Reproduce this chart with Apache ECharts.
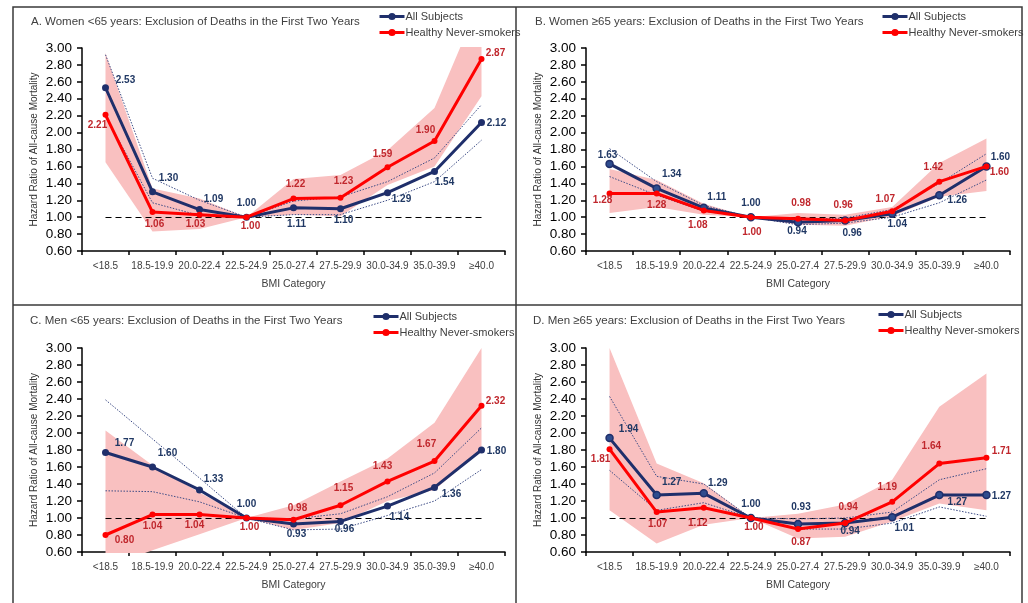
<!DOCTYPE html>
<html><head><meta charset="utf-8">
<script src="https://cdn.jsdelivr.net/npm/echarts@6/dist/echarts.min.js"></script>
<style>html,body{margin:0;padding:0;background:#fff}#c{width:1028px;height:603px}</style>
</head><body><div id="c"></div>
<script>
// ---------- DATA ----------
const categories = ['<18.5','18.5-19.9','20.0-22.4','22.5-24.9','25.0-27.4','27.5-29.9','30.0-34.9','35.0-39.9','≥40.0'];
const seriesNames = ['All Subjects', 'Healthy Never-smokers'];
const titles = [
  'A. Women <65 years: Exclusion of Deaths in the First Two Years',
  'B. Women ≥65 years: Exclusion of Deaths in the First Two Years',
  'C. Men <65 years: Exclusion of Deaths in the First Two Years',
  'D. Men ≥65 years: Exclusion of Deaths in the First Two Years'
];
const yMin = 0.6, yMax = 3.0, yStep = 0.2;
const refValue = 1.00;

// Panel A
const A_all      = [2.53,1.30,1.09,1.00,1.11,1.10,1.29,1.54,2.12];
const A_allUpper = [2.92,1.46,1.20,1.00,1.19,1.24,1.42,1.70,2.33];
const A_allLower = [2.20,1.17,1.02,1.00,1.03,1.03,1.20,1.42,1.91];
const A_hns      = [2.21,1.06,1.03,1.00,1.22,1.23,1.59,1.90,2.87];
const A_hnsUpper = [2.94,1.34,1.22,1.00,1.45,1.50,1.79,2.29,3.60];
const A_hnsLower = [1.65,0.83,0.86,1.00,1.03,1.01,1.38,1.60,2.43];
// Panel B
const B_all      = [1.63,1.34,1.11,1.00,0.94,0.96,1.04,1.26,1.60];
const B_allUpper = [1.81,1.42,1.14,1.00,0.97,0.99,1.09,1.40,1.75];
const B_allLower = [1.48,1.26,1.07,1.00,0.91,0.93,1.00,1.17,1.44];
const B_hns      = [1.28,1.28,1.08,1.00,0.98,0.96,1.07,1.42,1.60];
const B_hnsUpper = [1.57,1.44,1.16,1.00,1.05,1.03,1.12,1.64,1.93];
const B_hnsLower = [1.05,1.12,1.03,1.00,0.91,0.90,1.01,1.24,1.31];
// Panel C
const C_all      = [1.77,1.60,1.33,1.00,0.93,0.96,1.14,1.36,1.80];
const C_allUpper = [2.39,1.93,1.47,1.00,0.99,1.05,1.25,1.53,2.06];
const C_allLower = [1.32,1.31,1.19,1.00,0.86,0.87,1.03,1.20,1.57];
const C_hns      = [0.80,1.04,1.04,1.00,0.98,1.15,1.43,1.67,2.32];
const C_hnsUpper = [2.03,1.62,1.30,1.00,1.15,1.43,1.70,2.12,3.00];
const C_hnsLower = [0.42,0.62,0.81,1.00,0.86,0.94,1.20,1.33,1.80];
// Panel D
const D_all      = [1.94,1.27,1.29,1.00,0.93,0.94,1.01,1.27,1.27];
const D_allUpper = [2.43,1.49,1.40,1.00,0.99,1.00,1.07,1.45,1.58];
const D_allLower = [1.56,1.09,1.18,1.00,0.87,0.87,0.94,1.13,1.02];
const D_hns      = [1.81,1.07,1.12,1.00,0.87,0.94,1.19,1.64,1.71];
const D_hnsUpper = [3.00,1.64,1.41,1.00,1.05,1.16,1.45,2.31,2.70];
const D_hnsLower = [1.09,0.70,0.92,1.00,0.76,0.78,0.96,1.17,1.09];

// ---------- STYLE / LAYOUT ----------
const labelOffsets = {
  A: { all: [[20,-8],[16,-14],[14,-10],[0,-14],[3,16],[3,12],[14,7],[10,11],[15,1]],
       hns: [[-8,10],[2,12],[-4,10],[4,9],[2,-14],[3,-16],[-5,-13],[-9,-11],[14,-6]] },
  B: { all: [[-2,-9],[15,-14],[13,-11],[0,-14],[-1,9],[7,13],[5,10],[18,5],[14,-9]],
       hns: [[-7,7],[0,12],[-6,15],[1,15],[3,-16],[-2,-15],[-7,-12],[-6,-14],[13,6]] },
  C: { all: [[19,-9],[15,-14],[14,-11],[0,-14],[3,10],[4,8],[12,11],[17,7],[15,1]],
       hns: [[19,5],[0,12],[-5,11],[3,9],[4,-11],[3,-17],[-5,-15],[-8,-17],[14,-5]] },
  D: { all: [[19,-9],[15,-13],[14,-10],[0,-14],[3,-17],[5,8],[12,11],[18,7],[15,1]],
       hns: [[-9,10],[1,12],[-6,15],[3,9],[3,13],[3,-16],[-5,-15],[-8,-17],[15,-6]] }
};
const NAVY = '#1F2F6B', RED = '#FF0000', PINK = '#F9C0C0';
const NAVY_LBL = '#203864', RED_LBL = '#C0272D';
const FONT = '"Liberation Sans", Arial, sans-serif';

const panels = [
  { key:'A', all:A_all, allU:A_allUpper, allL:A_allLower, hns:A_hns, hU:A_hnsUpper, hL:A_hnsLower,
    grid:{left:82, top:48, width:423, height:203}, title:{left:31, top:16}, legend:{left:378, top:11}, hollow:false },
  { key:'B', all:B_all, allU:B_allUpper, allL:B_allLower, hns:B_hns, hU:B_hnsUpper, hL:B_hnsLower,
    grid:{left:586, top:48, width:424, height:203}, title:{left:535, top:16}, legend:{left:881, top:11}, hollow:true },
  { key:'C', all:C_all, allU:C_allUpper, allL:C_allLower, hns:C_hns, hU:C_hnsUpper, hL:C_hnsLower,
    grid:{left:82, top:348, width:423, height:204}, title:{left:30, top:315}, legend:{left:372, top:311}, hollow:false },
  { key:'D', all:D_all, allU:D_allUpper, allL:D_allLower, hns:D_hns, hU:D_hnsUpper, hL:D_hnsLower,
    grid:{left:586, top:348, width:424, height:204}, title:{left:533, top:315}, legend:{left:877, top:309}, hollow:true }
];

const option = {
  animation: false,
  backgroundColor: '#fff',
  textStyle: { fontFamily: FONT },
  grid: [], xAxis: [], yAxis: [], series: [], title: [], legend: [],
  graphic: [
    { type:'rect', shape:{x:13, y:7, width:1009, height:640}, style:{fill:null, stroke:'#3a3a3a', lineWidth:1.5}, silent:true },
    { type:'line', shape:{x1:516, y1:7, x2:516, y2:603}, style:{stroke:'#3a3a3a', lineWidth:1.5}, silent:true },
    { type:'line', shape:{x1:13, y1:305, x2:1022, y2:305}, style:{stroke:'#3a3a3a', lineWidth:1.5}, silent:true }
  ]
};

panels.forEach((p, i) => {
  option.grid.push(p.grid);
  option.title.push({ text: titles[i], left: p.title.left, top: p.title.top, padding: 0,
    textStyle: { fontFamily: FONT, fontSize: 11.5, fontWeight: 'normal', color: '#404040' } });
  option.legend.push({ data: seriesNames, orient: 'vertical', left: p.legend.left, top: p.legend.top, padding: 0,
    itemWidth: 25, itemHeight: 9, itemGap: 5, selectedMode: false,
    lineStyle: { width: 3 },
    textStyle: { fontFamily: FONT, fontSize: 11, color: '#404040', padding: [0,0,0,-4] } });
  option.xAxis.push({ type: 'category', gridIndex: i, data: categories, boundaryGap: true,
    name: 'BMI Category', nameLocation: 'middle', nameGap: 28,
    nameTextStyle: { fontFamily: FONT, fontSize: 10.5, color: '#404040' },
    axisLine: { lineStyle: { color: '#000', width: 1.5 } },
    axisTick: { show: true, length: 4, lineStyle: { color: '#000', width: 1.5 } },
    axisLabel: { interval: 0, margin: 10, fontFamily: FONT, fontSize: 10, color: '#404040' },
    splitLine: { show: false } });
  option.yAxis.push({ type: 'value', gridIndex: i, min: yMin, max: yMax, interval: yStep,
    name: 'Hazard Ratio of All-cause Mortality', nameLocation: 'middle', nameGap: 43,
    nameTextStyle: { fontFamily: FONT, fontSize: 10, color: '#333' },
    axisLine: { show: true, lineStyle: { color: '#000', width: 1.5 } },
    axisTick: { show: true, length: 5, lineStyle: { color: '#000', width: 1.5 } },
    axisLabel: { margin: 10, fontFamily: FONT, fontSize: 13.5, color: '#000', formatter: v => v.toFixed(2) },
    splitLine: { show: false } });

  const stackId = 'band' + p.key;
  // CI band for Healthy Never-smokers (lower + width, stacked)
  option.series.push({ name: 'bandLower' + p.key, type: 'line', xAxisIndex: i, yAxisIndex: i, stack: stackId,
    data: p.hL, symbol: 'none', lineStyle: { opacity: 0 }, silent: true, z: 1, clip: true });
  option.series.push({ name: 'bandWidth' + p.key, type: 'line', xAxisIndex: i, yAxisIndex: i, stack: stackId,
    data: p.hU.map((u, k) => +(u - p.hL[k]).toFixed(4)), symbol: 'none', lineStyle: { opacity: 0 },
    areaStyle: { color: PINK, opacity: 1 }, silent: true, z: 1, clip: true });
  // CI dotted lines for All Subjects
  [['allUpper', p.allU], ['allLower', p.allL]].forEach(([nm, arr], k) => {
    const s = { name: nm + p.key, type: 'line', xAxisIndex: i, yAxisIndex: i, data: arr, symbol: 'none',
      lineStyle: { color: '#3D4C86', width: 1, type: [1.5, 1.5] }, silent: true, z: 2, clip: true };
    if (k === 0) {
      s.markLine = { silent: true, symbol: 'none', label: { show: false }, z: 2,
        lineStyle: { color: '#000', type: [6, 4], width: 1.2 },
        data: [[{ coord: [0, refValue] }, { coord: [categories.length - 1, refValue] }]] };
    }
    option.series.push(s);
  });
  // Main lines
  const mk = (vals, offs) => vals.map((v, k) => ({ value: v, label: { offset: offs[k] } }));
  option.series.push({ name: seriesNames[0], type: 'line', xAxisIndex: i, yAxisIndex: i, z: 3,
    data: mk(p.all, labelOffsets[p.key].all), symbol: 'circle', symbolSize: 7,
    lineStyle: { color: NAVY, width: 3 },
    itemStyle: p.hollow ? { color: '#2E4C8E', borderColor: NAVY, borderWidth: 1.5 } : { color: NAVY },
    label: { show: true, position: 'inside', formatter: o => o.value.toFixed(2),
      fontFamily: FONT, fontSize: 10, fontWeight: 'bold', color: NAVY_LBL } });
  option.series.push({ name: seriesNames[1], type: 'line', xAxisIndex: i, yAxisIndex: i, z: 4,
    data: mk(p.hns, labelOffsets[p.key].hns), symbol: 'circle', symbolSize: 6,
    lineStyle: { color: RED, width: 3 }, itemStyle: { color: RED },
    label: { show: true, position: 'inside', formatter: o => o.value.toFixed(2),
      fontFamily: FONT, fontSize: 10, fontWeight: 'bold', color: RED_LBL } });
});

const chart = echarts.init(document.getElementById('c'), null, { renderer: 'canvas' });
chart.setOption(option);
</script>
</body></html>
